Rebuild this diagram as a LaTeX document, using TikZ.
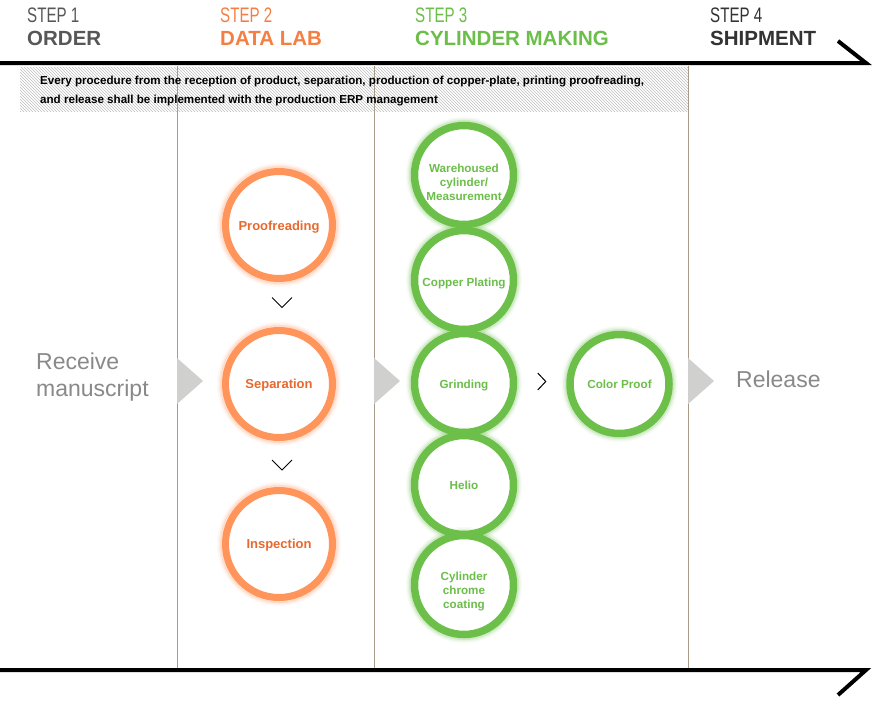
\documentclass[tikz,border=0pt]{standalone}
\usepackage{fontspec}
\setmainfont{Liberation Sans}
\usetikzlibrary{patterns,calc}
\definecolor{stepgray}{HTML}{575757}
\definecolor{steporange}{HTML}{F57F42}
\definecolor{stepgreen}{HTML}{6CBE4A}
\definecolor{stepdark}{HTML}{333333}
\definecolor{ringorange}{HTML}{FF955A}
\definecolor{txtorange}{HTML}{E8692E}
\definecolor{ringgreen}{HTML}{6CC04A}
\definecolor{txtgreen}{HTML}{6CBE4A}
\definecolor{vline}{HTML}{A99B89}
\definecolor{trigray}{HTML}{D0D1CF}
\definecolor{sidegray}{HTML}{898989}
\newcommand{\lowerby}[2]{\raisebox{-#1}[\height][\depth]{#2}}
\newcommand{\mlines}[2]{\raisebox{-#1}[\height][\depth]{\begin{tabular}{@{}c@{}}#2\end{tabular}}}
\tikzset{
  steplabel/.style={anchor=base west, inner sep=0pt, font=\fontsize{21}{24}\selectfont},
  stepname/.style={anchor=base west, inner sep=0pt, font=\fontsize{20.5}{24}\selectfont\bfseries},
  glowring/.style={
    preaction={draw=#1, line width=17pt, draw opacity=0.06},
    preaction={draw=#1, line width=14pt, draw opacity=0.10},
    preaction={draw=#1, line width=11pt, draw opacity=0.18}},
  ocirc/.style={circle, fill=white, draw=ringorange, line width=7pt, glowring=ringorange,
    minimum size=107pt, inner sep=0pt, text=txtorange, align=center,
    font=\fontsize{13}{15}\selectfont\bfseries},
  gcirc/.style={circle, fill=white, draw=ringgreen, line width=7.5pt, glowring=ringgreen,
    minimum size=99pt, inner sep=0pt, text=txtgreen, align=center,
    font=\fontsize{11.7}{14}\selectfont\bfseries},
  thickline/.style={line width=4pt, line join=miter, black},
  colline/.style={vline, line width=0.8pt},
  tri/.style={fill=trigray},
  chev/.style={black, line width=1pt},
  sidetext/.style={text=sidegray, inner sep=0pt, font=\fontsize{23}{27}\selectfont, align=left},
  bandtext/.style={anchor=base west, inner sep=0pt, font=\fontsize{11.6}{13}\selectfont\bfseries}
}
\begin{document}
\begin{tikzpicture}[x=1pt,y=-1pt]
\useasboundingbox[fill=white] (0,0) rectangle (875,712);
% hatched band
\fill[pattern=north west lines, pattern color=gray!50] (20,67) rectangle (688,111);
% column lines
\draw[colline] (177,66) -- (177,669);
\draw[colline] (374,66) -- (374,669);
\draw[colline] (688,66) -- (688,669);
% top and bottom lines
\coordinate (tl) at (0,63);
\coordinate (tr) at (866,63);
\coordinate (te) at (838,41);
\draw[thickline] (tl) -- (tr) -- (te);
\coordinate (bl) at (0,670);
\coordinate (br) at (866,670);
\coordinate (be) at (838,695);
\draw[thickline] (bl) -- (br) -- (be);
% headers
\node[steplabel, text=stepgray] (s1) at (27,22) {\scalebox{0.72}[1]{STEP 1}};
\node[stepname, text=stepgray] (n1) at (27,45) {ORDER};
\node[steplabel, text=steporange] (s2) at (220,22) {\scalebox{0.72}[1]{STEP 2}};
\node[stepname, text=steporange] (n2) at (220,45) {DATA LAB};
\node[steplabel, text=stepgreen] (s3) at (415,22) {\scalebox{0.72}[1]{STEP 3}};
\node[stepname, text=stepgreen] (n3) at (415,45) {CYLINDER MAKING};
\node[steplabel, text=stepdark] (s4) at (710,22) {\scalebox{0.72}[1]{STEP 4}};
\node[stepname, text=stepdark] (n4) at (710,45) {SHIPMENT};
% band text
\node[bandtext] (b1) at (40,84) {Every procedure from the reception of product, separation, production of copper-plate, printing proofreading,};
\node[bandtext] (b2) at (40,103) {and release shall be implemented with the production ERP management};
% side texts
\node[sidetext, anchor=west] (recv) at (36,377) {Receive\\manuscript};
\node[sidetext, anchor=west] (rel) at (736,379) {Release};
% triangles
\fill[tri] (177,358) -- (203,381) -- (177,404) -- cycle;
\fill[tri] (374,358) -- (400,381) -- (374,404) -- cycle;
\fill[tri] (688,358) -- (714,381) -- (688,404) -- cycle;
% orange circles
\node[ocirc] (proof) at (279,225) {\lowerby{2pt}{Proofreading}};
\node[ocirc] (sep) at (279,384) {\lowerby{1pt}{Separation}};
\node[ocirc] (insp) at (279,544) {\lowerby{1pt}{Inspection}};
% green circles
\node[gcirc] (ware) at (464,175) {\mlines{9pt}{Warehoused\\cylinder/\\Measurement}};
\node[gcirc] (copper) at (464,280) {\lowerby{3pt}{Copper Plating}};
\node[gcirc] (grind) at (464,383) {\lowerby{2pt}{Grinding}};
\node[gcirc] (helio) at (464,485) {Helio};
\node[gcirc] (chrome) at (464,585) {\mlines{7pt}{Cylinder\\chrome\\coating}};
\node[gcirc] (cproof) at (619.5,384) {Color Proof};
% chevrons
\coordinate (c1) at ($(proof)!0.5!(sep)+(3,-2)$);
\coordinate (c2) at ($(sep)!0.5!(insp)+(3,1)$);
\coordinate (c3) at ($(grind)!0.5!(cproof)+(0,-2)$);
\draw[chev] ([xshift=-10pt,yshift=5pt]c1) -- ([yshift=-5pt]c1) -- ([xshift=10pt,yshift=5pt]c1);
\draw[chev] ([xshift=-10pt,yshift=5pt]c2) -- ([yshift=-5pt]c2) -- ([xshift=10pt,yshift=5pt]c2);
\draw[chev] ([xshift=-4pt,yshift=8.5pt]c3) -- ([xshift=4pt]c3) -- ([xshift=-4pt,yshift=-8.5pt]c3);
\end{tikzpicture}
\end{document}
